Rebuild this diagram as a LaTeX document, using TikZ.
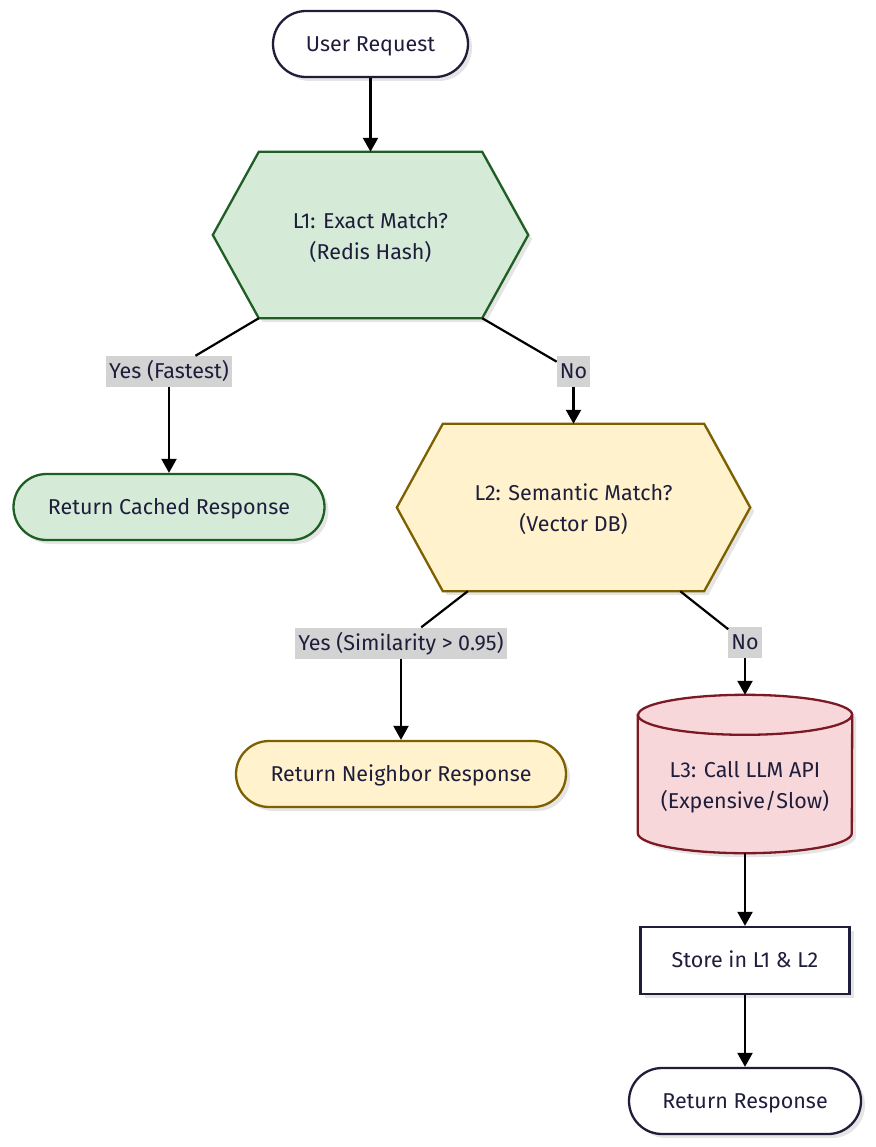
\documentclass[tikz,border=0pt]{standalone}
\usepackage{fontspec}
\setmainfont{Fira Sans}
\usetikzlibrary{arrows.meta,shadows,backgrounds,calc}
\definecolor{ink}{HTML}{1E1E3C}
\definecolor{navy}{HTML}{1E1E3A}
\definecolor{gfill}{HTML}{D5EBD8}
\definecolor{gline}{HTML}{1F5E24}
\definecolor{yfill}{HTML}{FFF2CC}
\definecolor{yline}{HTML}{7F6000}
\definecolor{pfill}{HTML}{F8D7DA}
\definecolor{pline}{HTML}{7B1A24}
\definecolor{labgray}{HTML}{D3D3D3}
\begin{document}
\begin{tikzpicture}[x=1pt,y=-1pt,
  font=\fontsize{21.5}{31}\selectfont,
  shad/.style={drop shadow={shadow xshift=4pt,shadow yshift=-4pt,opacity=0.10,fill=black}},
  one/.style={text height=15pt,text depth=0.5pt},
  term/.style={draw=navy,line width=2.3pt,rounded corners=33pt,minimum height=66pt,
    text=ink,fill=white,shad,inner sep=0pt,one},
  termG/.style={term,draw=gline,fill=gfill},
  termY/.style={term,draw=yline,fill=yfill},
  boxN/.style={draw=navy,line width=2.3pt,minimum height=67pt,text=ink,fill=white,shad,inner sep=0pt,one},
  holder/.style={minimum height=166pt,inner sep=0pt},
  txt/.style={align=center,text=ink,inner sep=0pt},
  hexG/.style={draw=gline,fill=gfill,line width=2.3pt,line join=miter,shad},
  hexY/.style={draw=yline,fill=yfill,line width=2.3pt,line join=miter,shad},
  cylS/.style={draw=pline,fill=pfill,line width=2.3pt,shad},
  cylL/.style={draw=pline,line width=2.3pt},
  elab/.style={fill=labgray,text=ink,inner xsep=3pt,inner ysep=0pt,minimum height=31pt,one},
  arr/.style={-{Triangle[width=15pt,length=14pt]},line width=2.2pt,black},
  ln/.style={line width=2.2pt,black}]
\useasboundingbox (0,0) rectangle (875,1147);

% nodes
\node[term,minimum width=195pt] (user) at (370.5,44) {User Request};
\node[holder,minimum width=315pt] (L1) at (370.5,235) {};
\node[txt] (L1t) at (370.5,238) {L1: Exact Match?\\(Redis Hash)};
\node[elab] (lab1) at (169,371.5) {Yes (Fastest)};
\node[termG,minimum width=311pt] (cached) at (169,507) {Return Cached Response};
\node[elab] (no1) at (573.5,371.5) {No};
\node[holder,minimum width=353pt,minimum height=167pt] (L2) at (573.5,507.5) {};
\node[txt] (L2t) at (573.5,509) {L2: Semantic Match?\\(Vector DB)};
\node[elab] (lab2) at (401,643) {Yes (Similarity > 0.95)};
\node[termY,minimum width=330pt] (neigh) at (401,774) {Return Neighbor Response};
\node[elab] (no2) at (745,642.5) {No};
\node[minimum width=214pt,minimum height=158pt,inner sep=0pt] (L3) at (745,774) {};
\node[txt] (L3t) at (745,787.5) {L3: Call LLM API\\(Expensive/Slow)};
\node[boxN,minimum width=209pt] (store) at (745,960.5) {Store in L1 \& L2};
\node[term,minimum width=232pt] (ret) at (745,1101) {Return Response};

% shapes drawn behind
\begin{scope}[on background layer]
\draw[hexG] (L1.west) -- ([xshift=46pt]L1.north west) -- ([xshift=-46pt]L1.north east)
  -- (L1.east) -- ([xshift=-46pt]L1.south east) -- ([xshift=46pt]L1.south west) -- cycle;
\draw[hexY] (L2.west) -- ([xshift=46pt]L2.north west) -- ([xshift=-46pt]L2.north east)
  -- (L2.east) -- ([xshift=-46pt]L2.south east) -- ([xshift=46pt]L2.south west) -- cycle;
\draw[cylS] ($(L3.north west)+(0,20)$) -- ($(L3.south west)+(0,-20)$)
  arc[start angle=180,end angle=360,x radius=107pt,y radius=20pt]
  -- ($(L3.north east)+(0,20)$)
  arc[start angle=0,end angle=180,x radius=107pt,y radius=20pt] -- cycle;
\draw[cylL] ($(L3.north west)+(0,20)$) arc[start angle=180,end angle=360,x radius=107pt,y radius=20pt];
\end{scope}

% connector anchor points on hexagon bottoms
\coordinate (L1a) at ([xshift=46pt]L1.south west);
\coordinate (L1b) at ([xshift=-46pt]L1.south east);
\coordinate (L2a) at ([xshift=71pt]L2.south west);
\coordinate (L2b) at ([xshift=-70pt]L2.south east);

% connectors
\draw[arr] (user) -- (L1.north);
\draw[ln] (L1a) -- (lab1);
\draw[arr] (lab1) -- (cached);
\draw[ln] (L1b) -- (no1);
\draw[arr] (no1) -- (L2.north);
\draw[ln] (L2a) -- (lab2);
\draw[arr] (lab2) -- (neigh);
\draw[ln] (L2b) -- (no2);
\draw[arr] (no2) -- (L3.north);
\draw[arr] (L3.south) -- (store);
\draw[arr] (store) -- (ret);
\end{tikzpicture}
\end{document}
